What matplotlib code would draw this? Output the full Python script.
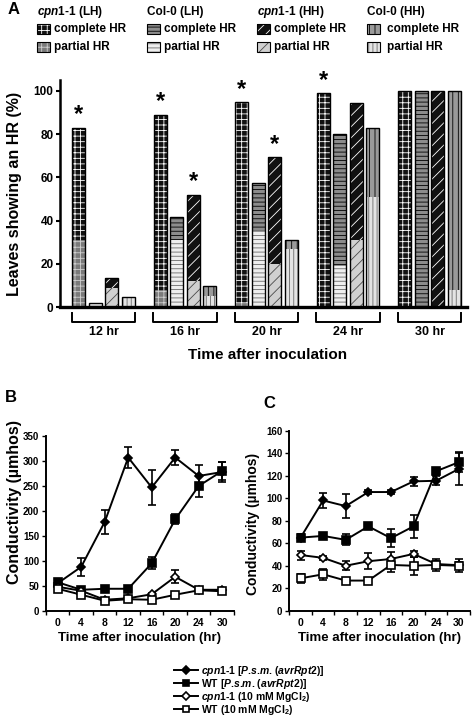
import numpy as np
import matplotlib
matplotlib.use('Agg')
from matplotlib import pyplot as plt
from matplotlib import transforms
from matplotlib.patches import Rectangle

plt.rcParams['font.family'] = ['Liberation Sans', 'DejaVu Sans']
plt.rcParams['font.weight'] = 'bold'
plt.rcParams['axes.labelweight'] = 'bold'
plt.rcParams['mathtext.fontset'] = 'custom'
plt.rcParams['mathtext.it'] = 'Liberation Sans:italic:bold'
plt.rcParams['mathtext.rm'] = 'Liberation Sans:bold'
plt.rcParams['mathtext.bf'] = 'Liberation Sans:bold'
plt.rcParams['hatch.linewidth'] = 0.6

# ---- panel A data (% leaves showing an HR) ----
groups = ['12 hr', '16 hr', '20 hr', '24 hr', '30 hr']
line_names = [r'$\mathit{cpn1}$-$\mathit{1}$ (LH)', 'Col-0 (LH)',
              r'$\mathit{cpn1}$-$\mathit{1}$ (HH)', 'Col-0 (HH)']

total_cpn_lh = [83, 89, 95, 99, 100]
partial_cpn_lh = [31, 8, 2, 0, 0]
total_col_lh = [2, 41.5, 57.5, 80, 100]
partial_col_lh = [2, 31, 35, 19, 0]
total_cpn_hh = [13.5, 52, 69.5, 94.5, 100]
partial_cpn_hh = [9, 12, 20, 31, 0]
total_col_hh = [4.5, 9.5, 31, 83, 100]
partial_col_hh = [4.5, 5, 27, 51, 8]

totals = [total_cpn_lh, total_col_lh, total_cpn_hh, total_col_hh]
partials = [partial_cpn_lh, partial_col_lh, partial_cpn_hh, partial_col_hh]
# (group index, line index) marked with an asterisk
signif = [(0, 0), (1, 0), (1, 2), (2, 0), (2, 2), (3, 0)]

# ---- panels B and C data (conductivity, umhos) ----
times = ['0', '4', '8', '12', '16', '20', '24', '30']

b_cpn_psm = [55, 88, 178, 307, 247, 307, 270, 278]
b_cpn_psm_err = [5, 18, 24, 22, 35, 16, 22, 20]
b_wt_psm = [57, 42, 44, 44, 95, 183, 250, 280]
b_wt_psm_err = [4, 4, 4, 4, 12, 10, 22, 18]
b_cpn_mg = [48, 40, 22, 25, 33, 68, 42, 42]
b_cpn_mg_err = [3, 3, 3, 3, 3, 13, 3, 3]
b_wt_mg = [44, 32, 20, 23, 22, 32, 41, 39]
b_wt_mg_err = [3, 3, 3, 3, 3, 3, 3, 3]

c_cpn_psm = [65, 98, 93, 105.5, 105.5, 115, 115.5, 126]
c_cpn_psm_err = [3, 7, 11, 2, 2, 4, 4, 14]
c_wt_psm = [65, 66.5, 63, 75, 64.5, 75, 124, 132]
c_wt_psm_err = [3, 2, 5, 2, 8, 10, 3, 9]
c_cpn_mg = [49.5, 47, 40, 44, 46, 50.5, 41.5, 40.5]
c_cpn_mg_err = [4, 2, 4, 7, 6, 3, 3, 3]
c_wt_mg = [28.8, 32.4, 26.8, 26.8, 40.7, 40, 40.7, 40]
c_wt_mg_err = [4, 5, 1, 1, 6, 8, 5, 6]

psm = r'$\mathit{P}$.$\mathit{s}$.$\mathit{m}$.'
legend_labels = [r'$\mathit{cpn1}$-$\mathit{1}$ [' + psm + r' ($\mathit{avrRpt2}$)]',
                 r'WT [' + psm + r' ($\mathit{avrRpt2}$)]',
                 r'$\mathit{cpn1}$-$\mathit{1}$ (10 mM MgCl$_\mathrm{2}$)',
                 r'WT (10 mM MgCl$_\mathrm{2}$)']

# fill styles: (face, hatch, hatch colour) for complete / partial
complete_style = [('#111111', '+++', 'white'),
                  ('#8c8c8c', '----', 'black'),
                  ('#111111', '///', 'white'),
                  ('#9a9a9a', '|||', 'black')]
partial_style = [('#7a7a7a', '+++', '#d0d0d0'),
                 ('#eeeeee', '----', '#6a6a6a'),
                 ('#d0d0d0', '///', '#4a4a4a'),
                 ('#e4e4e4', '||||', '#6a6a6a')]

fig = plt.figure(figsize=(4.74, 7.18), dpi=100)

# ================= panel A =================
axA = fig.add_axes([0.1276, 0.5724, 0.8576, 0.3162])
xg = np.arange(len(groups))
offsets = [-0.3, -0.1, 0.1, 0.3]
width = 0.16
for i in range(4):
    x = xg + offsets[i] * 1.01
    tot = np.array(totals[i])
    par = np.array(partials[i])
    pf, ph, pc = partial_style[i]
    cf, ch, cc = complete_style[i]
    axA.bar(x, par, width, color=pf, edgecolor=pc, hatch=ph, lw=0)
    axA.bar(x, tot - par, width, bottom=par, color=cf, edgecolor=cc, hatch=ch, lw=0)
    axA.bar(x, tot, width, fill=False, edgecolor='black', lw=1)

for g, i in signif:
    axA.text(g + offsets[i] * 1.01, totals[i][g] + 0.5, '*', ha='center', va='bottom',
             fontsize=17, fontweight='bold')

axA.set_xlim(-0.53, 4.46)
axA.set_ylim(0, 105)
axA.set_xticks([])
axA.set_yticks([0, 20, 40, 60, 80, 100])
axA.tick_params(axis='y', direction='out', length=3, width=1.5, labelsize=8.5, pad=2)
for s in ['top', 'right']:
    axA.spines[s].set_visible(False)
axA.spines['left'].set_linewidth(1.8)
axA.spines['bottom'].set_linewidth(2.4)

trans = transforms.blended_transform_factory(axA.transData, axA.transAxes)
for g, name in enumerate(groups):
    axA.plot([g - 0.39, g - 0.39, g + 0.39, g + 0.39], [-0.026, -0.066, -0.066, -0.026],
             transform=trans, clip_on=False, color='black', lw=1.4)
    axA.text(g, -0.11, name, transform=trans, ha='center', va='center', fontsize=9)
axA.text(0.51, -0.21, 'Time after inoculation', transform=axA.transAxes,
         ha='center', va='center', fontsize=11)
fig.text(15 / 474, 1 - 194 / 718, 'Leaves showing an HR (%)', rotation=90,
         ha='center', va='center', fontsize=11.5)

# legend of panel A
fig.text(8 / 474, 1 - 9 / 718, 'A', fontsize=12, ha='left', va='center')
col_x = [37, 147, 257, 367]
for i in range(4):
    x0 = col_x[i]
    fig.text(x0 / 474, 1 - 12 / 718, line_names[i], fontsize=8.5, ha='left', va='center')
    for row, (sty, txt) in enumerate([(complete_style[i], 'complete HR'),
                                       (partial_style[i], 'partial HR')]):
        yc = 29 + row * 18
        fc, hh, hc = sty
        r = Rectangle((x0 / 474, 1 - (yc + 5) / 718), 13 / 474, 10 / 718,
                      transform=fig.transFigure, facecolor=fc, edgecolor=hc,
                      hatch=hh, lw=0)
        fig.add_artist(r)
        fig.add_artist(Rectangle((x0 / 474, 1 - (yc + 5) / 718), 13 / 474, 10 / 718,
                                 transform=fig.transFigure, fill=False,
                                 edgecolor='black', lw=0.8))
        fig.text((x0 + 17 + (3 if i == 3 else 0)) / 474, 1 - yc / 718, txt,
                 fontsize=8.5, ha='left', va='center')


# ================= panels B and C =================
def conductivity_panel(ax, series, ymax, ystep, ylab_size, ylab_xy):
    xp = np.arange(len(times))
    markers = [('D', 'black', 4.5), ('s', 'black', 5.5), ('D', 'white', 4.5), ('s', 'white', 5.5)]
    handles = []
    for (vals, errs), (m, fc, ms) in zip(series, markers):
        h = ax.errorbar(xp, vals, yerr=errs, color='black', lw=1.4, marker=m, ms=ms,
                        mfc=fc, mec='black', mew=1.2, capsize=3, elinewidth=1.2,
                        capthick=1.2)
        handles.append(h[0])
    ax.set_xlim(-0.5, 7.5)
    ax.set_ylim(0, ymax)
    ax.set_yticks(np.arange(0, ymax + 1, ystep))
    ax.set_xticks(np.arange(-0.5, 8, 1))
    ax.set_xticklabels([])
    ax.set_xticks(xp, minor=True)
    ax.set_xticklabels(times, minor=True)
    ax.tick_params(axis='x', which='major', direction='out', length=3, width=1)
    ax.tick_params(axis='x', which='minor', length=0, labelsize=7.5, pad=5)
    ax.tick_params(axis='y', direction='out', length=3, width=1, labelsize=7, pad=2)
    for s in ['top', 'right']:
        ax.spines[s].set_visible(False)
    ax.spines['left'].set_linewidth(1.4)
    ax.spines['bottom'].set_linewidth(1.4)
    ax.set_xlabel('Time after inoculation (hr)', fontsize=9.5, labelpad=3)
    ax.set_ylabel('Conductivity (\u00b5mhos)', fontsize=ylab_size)
    ax.yaxis.set_label_coords(*ylab_xy)
    return handles


axB = fig.add_axes([0.0970, 0.1494, 0.3966, 0.2433])
hB = conductivity_panel(axB, [(b_cpn_psm, b_cpn_psm_err), (b_wt_psm, b_wt_psm_err),
                              (b_cpn_mg, b_cpn_mg_err), (b_wt_mg, b_wt_mg_err)],
                        350, 50, 11.5, (-0.13, 0.62))
axC = fig.add_axes([0.6103, 0.1494, 0.3812, 0.2507])
conductivity_panel(axC, [(c_cpn_psm, c_cpn_psm_err), (c_wt_psm, c_wt_psm_err),
                         (c_cpn_mg, c_cpn_mg_err), (c_wt_mg, c_wt_mg_err)],
                   160, 20, 10, (-0.16, 0.48))

fig.text(5 / 474, 1 - 397 / 718, 'B', fontsize=12, ha='left', va='center')
fig.text(263 / 474, 1 - 403 / 718, 'C', fontsize=12, ha='left', va='center')

leg = fig.legend(hB, legend_labels, loc='upper left',
                 bbox_to_anchor=(174 / 474, 1 - 664 / 718), frameon=False,
                 fontsize=7.5, handlelength=2.3, handletextpad=0.3, numpoints=1,
                 markerscale=0.8, labelspacing=-0.1, borderpad=0, borderaxespad=0)

fig.savefig('out.png', dpi=100)
